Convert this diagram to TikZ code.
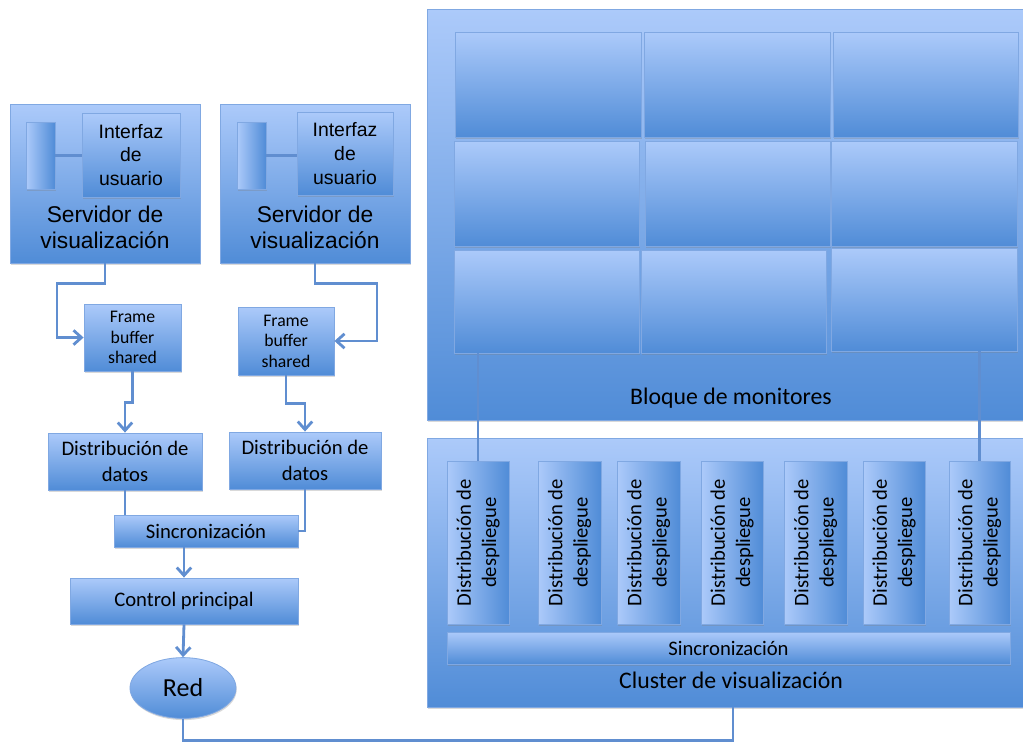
\documentclass[tikz,border=0pt]{standalone}
\usepackage{fontspec}
\setmainfont{Carlito}
\newfontfamily\arialfont{Liberation Sans}
\usetikzlibrary{arrows.meta, fit, shadows, shapes.geometric}

\definecolor{boxtop}{RGB}{172,202,250}
\definecolor{boxbot}{RGB}{80,140,215}
\definecolor{boxline}{RGB}{128,168,226}
\definecolor{wireblue}{RGB}{96,142,208}

\newcommand{\bigfont}{\fontsize{16.9}{20}\selectfont}
\newcommand{\midfont}{\fontsize{14.7}{18}\selectfont}
\newcommand{\fbfont}{\fontsize{12.6}{14.6}\selectfont}
\newcommand{\srvfont}{\arialfont\fontsize{16.2}{18.6}\selectfont}
\newcommand{\uifont}{\arialfont\fontsize{13.8}{17}\selectfont}

\tikzset{
    box/.style={draw=boxline, line width=0.6pt, top color=boxtop, bottom color=boxbot,
        inner sep=0pt,
        drop shadow={shadow xshift=0.5pt, shadow yshift=-1.2pt, opacity=0.3}},
    sidebox/.style={box, left color=boxtop, right color=boxbot},
    txt/.style={align=center, inner sep=0pt},
    wire/.style={draw=wireblue, line width=2pt},
    thinwire/.style={draw=wireblue, line width=1.5pt},
    arr/.style={-{Straight Barb[length=2mm, width=3.6mm]}},
}

\begin{document}
\begin{tikzpicture}[x=0.025cm, y=-0.025cm]
\useasboundingbox (0,0) rectangle (1023,744);

% servidores de visualizacion
\node[box, fit={(10,104) (200,263)}] (srvA) {};
\node[sidebox, fit={(26,122) (55,189)}] (barA) {};
\node[box, fit={(82,113) (180,197)}] (uiA) {};
\node[txt, font=\uifont] at (uiA) {Interfaz\\de\\usuario};
\node[txt, font=\srvfont] (srvAtxt) at (105,227) {Servidor de\\visualización};
\draw[wire] (barA.east) -- (barA.east -| uiA.west);

\node[box, fit={(220,104) (410,263)}] (srvB) {};
\node[sidebox, fit={(237,122) (266,189)}] (barB) {};
\node[box, fit={(297,112) (393,195)}] (uiB) {};
\node[txt, font=\uifont] at (uiB) {Interfaz\\de\\usuario};
\node[txt, font=\srvfont] (srvBtxt) at (315,227) {Servidor de\\visualización};
\draw[wire] (barB.east) -- (barB.east -| uiB.west);

% cadena de cada servidor
\node[box, fit={(84,304) (181,371)}] (fbA) {};
\node[txt, font=\fbfont] at (fbA) {Frame\\buffer\\shared};
\node[box, fit={(238,307) (334,375)}] (fbB) {};
\node[txt, font=\fbfont] at (fbB) {Frame\\buffer\\shared};
\node[box, fit={(48,433) (202,490)}] (distA) {};
\node[txt, font=\midfont] at (distA) {Distribución de\\datos};
\node[box, fit={(229,432) (381,489)}] (distB) {};
\node[txt, font=\midfont] at (distB) {Distribución de\\datos};
\node[box, fit={(114,515) (298,547)}] (sinc) {};
\node[txt, font=\midfont] at (sinc) {Sincronización};
\node[box, fit={(70,578) (298,624)}] (ctrl) {};
\node[txt, font=\midfont] at (ctrl) {Control principal};
\node[box, ellipse, minimum width=2.65cm, minimum height=1.52cm, font=\fontsize{18.5}{20}\selectfont] (red) at (183,688) {Red};

% bloque de monitores
\node[box, fit={(427,9) (1023,420)}] (bloque) {};
\node[txt, font=\bigfont] (bloquetxt) at (731,398) {Bloque de monitores};
\node[box, fit={(455,32) (641,137)}] (m11) {};
\node[box, fit={(644,32) (830,137)}] (m12) {};
\node[box, fit={(833,32) (1018,137)}] (m13) {};
\node[box, fit={(454,141) (639,246)}] (m21) {};
\node[box, fit={(645,141) (830,246)}] (m22) {};
\node[box, fit={(831,141) (1017,246)}] (m23) {};
\node[box, fit={(454,250) (639,353)}] (m31) {};
\node[box, fit={(641,250) (826,353)}] (m32) {};
\node[box, fit={(831,248) (1017,351)}] (m33) {};

% cluster de visualizacion
\node[box, fit={(427,438) (1023,707)}] (cluster) {};
\node[txt, font=\bigfont] (clustertxt) at (731,680) {Cluster de visualización};
\foreach \a/\b [count=\i] in {447/509, 538/601, 617/680, 701/763, 784/847, 863/925, 949/1010}{
    \node[sidebox, fit={(\a,461) (\b,624)}] (dd\i) {};
    \node[txt, rotate=90, font=\midfont] at (dd\i) {Distribución de\\despliegue};
}
\node[box, fit={(447,632) (1010,664)}] (sincC) {};
\node[txt, font=\midfont] at (sincC) {Sincronización};

% conexiones
\draw[wire, arr] (srvA.south) -- ++(0,20) -- ++(-48,0) |- (fbA.west);
\draw[wire, arr] (srvB.south) -- ++(0,20) -- ++(62,0) |- (fbB.east);
\draw[wire, arr] (fbA.south) -- ++(0,31) -| (distA.north);
\draw[wire, arr] (fbB.south) -- ++(0,28) -| (distB.north);
\draw[wire] (distA.south) -- (distA.south |- sinc.north);
\draw[wire] (distB.south) |- (sinc.east);
\draw[wire, arr] (ctrl.north |- sinc.south) -- (ctrl.north);
\draw[wire, arr] (ctrl.south) -- (red.north);
\draw[wire] (red.south) -- ++(0,22) -| ([xshift=0.2cm]cluster.south);
\draw[thinwire] (m31.south -| dd1.north) -- (dd1.north);
\draw[thinwire] (m33.south -| dd7.north) -- (dd7.north);

\end{tikzpicture}
\end{document}
